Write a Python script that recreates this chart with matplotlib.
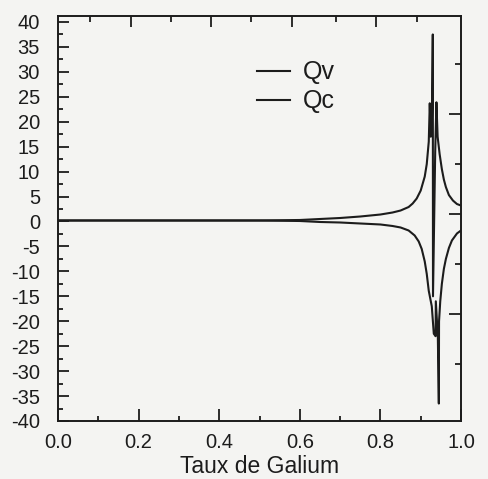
import matplotlib
matplotlib.use("Agg")
import matplotlib.pyplot as plt
from matplotlib.ticker import MultipleLocator

plt.rcParams['font.family'] = ['Liberation Sans', 'DejaVu Sans']

# Data
qv_x = [0.0, 0.1, 0.2, 0.3, 0.4, 0.5, 0.6, 0.65, 0.7, 0.75, 0.8, 0.83, 0.85, 0.87,
        0.88, 0.89, 0.90, 0.91, 0.915, 0.92, 0.9225, 0.925, 0.928, 0.930, 0.9305,
        0.936, 0.939, 0.942, 0.947, 0.9525, 0.9575, 0.9625, 0.97, 0.98, 0.99, 1.0]
qv_y = [0.2, 0.2, 0.2, 0.2, 0.2, 0.2, 0.3, 0.5, 0.7, 1.0, 1.4, 1.8, 2.2, 2.9,
        3.6, 4.6, 6.2, 9.0, 11.5, 16.0, 23.7, 17.0, 21.0, 37.5, -15.0,
        14.0, 23.9, 17.0, 13.5, 10.5, 8.4, 6.9, 5.3, 4.2, 3.5, 3.2]

qc_x = [0.0, 0.1, 0.2, 0.3, 0.4, 0.5, 0.6, 0.65, 0.7, 0.75, 0.8, 0.83, 0.85,
        0.87, 0.885, 0.895, 0.9025, 0.91, 0.915, 0.92, 0.9275, 0.9325, 0.937,
        0.9375, 0.9425, 0.945, 0.9455, 0.9485, 0.9525, 0.9575, 0.9625, 0.97,
        0.9775, 0.99, 1.0]
qc_y = [0.2, 0.2, 0.2, 0.2, 0.2, 0.2, 0.1, -0.1, -0.2, -0.4, -0.6, -0.9, -1.2,
        -1.8, -2.8, -4.0, -5.5, -8.0, -10.5, -13.9, -17.0, -22.5, -23.0,
        -16.0, -23.0, -36.5, -20.0, -16.0, -12.5, -9.5, -7.5, -5.3,
        -3.8, -2.4, -1.8]

series_labels = ['Qv', 'Qc']
y_ticks = list(range(-40, 45, 5))
x_ticks = [0.0, 0.2, 0.4, 0.6, 0.8, 1.0]

bg = '#f4f4f2'
ink = '#1c1c1c'

fig = plt.figure(figsize=(4.88, 4.79), dpi=100, facecolor=bg)
ax = fig.add_axes([58/488, 1-421/479, (461-58)/488, (421-16)/479], facecolor=bg)

ax.plot(qv_x, qv_y, color=ink, lw=1.5, label=series_labels[0])
ax.plot(qc_x, qc_y, color=ink, lw=1.5, label=series_labels[1])

ax.set_xlim(0, 1.0)
ax.set_ylim(-40, 41.2)
ax.set_xticks(x_ticks)
ax.set_xticklabels([f"{v:.1f}" for v in x_ticks])
ax.set_yticks(y_ticks)
ax.set_yticklabels([str(v) for v in y_ticks])
ax.xaxis.set_minor_locator(MultipleLocator(0.1))
ax.yaxis.set_minor_locator(MultipleLocator(2.5))

ax.tick_params(axis='both', which='major', direction='in', colors=ink,
               labelsize=14.5, width=1.3)
ax.tick_params(axis='y', which='major', length=8, pad=13)
ax.tick_params(axis='x', which='major', length=9, pad=9)
ax.tick_params(axis='both', which='minor', direction='in', length=3.5, width=1.3, colors=ink)

for sp in ax.spines.values():
    sp.set_color(ink)
    sp.set_linewidth(1.4)

# top and right ticks (offset as in the original)
top = ax.secondary_xaxis('top')
top.set_xticks([0.18, 0.38, 0.58, 0.79])
top.set_xticks([0.08, 0.28, 0.48, 0.69, 0.89], minor=True)
top.tick_params(which='major', direction='in', length=8, width=1.3, colors=ink, labeltop=False)
top.tick_params(which='minor', direction='in', length=4, width=1.3, colors=ink)
top.spines['top'].set_visible(False)

right = ax.secondary_yaxis('right')
right.set_yticks([21.5, 1.5, -18.5])
right.set_yticks([31.5, 11.5, -8.5, -28.5], minor=True)
right.tick_params(which='major', direction='in', length=9, width=1.3, colors=ink, labelright=False)
right.tick_params(which='minor', direction='in', length=4, width=1.3, colors=ink)
right.spines['right'].set_visible(False)

ax.set_xlabel('Taux de Galium', fontsize=16.5, color=ink, labelpad=2)

leg = ax.legend(loc='upper left', bbox_to_anchor=(0.47, 0.915), frameon=False,
                fontsize=18, handlelength=1.3, handletextpad=0.5, labelspacing=0.2,
                borderaxespad=0)
for t in leg.get_texts():
    t.set_color(ink)

fig.savefig('out.png', dpi=100, facecolor=bg)
